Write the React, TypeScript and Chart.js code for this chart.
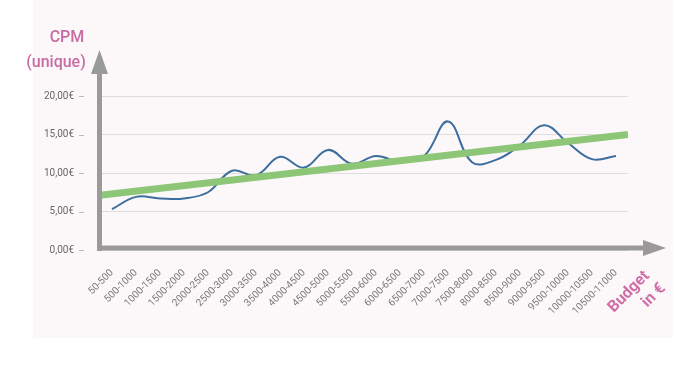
import React, { useEffect, useRef } from "react";
import { Chart, registerables } from "chart.js";

Chart.register(...registerables);

const categories = [
  "50-500", "500-1000", "1000-1500", "1500-2000", "2000-2500", "2500-3000",
  "3000-3500", "3500-4000", "4000-4500", "4500-5000", "5000-5500", "5500-6000",
  "6000-6500", "6500-7000", "7000-7500", "7500-8000", "8000-8500", "8500-9000",
  "9000-9500", "9500-10000", "10000-10500", "10500-11000",
];
const cpmValues = [
  5.3, 6.9, 6.7, 6.7, 7.5, 10.3, 9.7, 12.1, 10.7, 13.0, 11.2, 12.2,
  11.5, 12.2, 16.7, 11.4, 11.7, 13.6, 16.2, 13.9, 11.8, 12.2,
];
const trendStart = 7.1;
const trendEnd = 15.0;
const yTicks = [0, 5, 10, 15, 20];

const fmt = (v: number) => v.toFixed(2).replace(".", ",") + "€";

export default function App() {
  const ref = useRef<HTMLCanvasElement | null>(null);
  useEffect(() => {
    const canvas = ref.current!;
    const decor = {
      id: "decor",
      beforeDraw(chart: any) {
        const ctx = chart.ctx;
        ctx.save();
        ctx.fillStyle = "#ffffff";
        ctx.fillRect(0, 0, chart.width, chart.height);
        ctx.fillStyle = "#fcf8f9";
        ctx.fillRect(33, 0, 640, 338);
        ctx.restore();
      },
      afterDraw(chart: any) {
        const ctx = chart.ctx;
        const area = chart.chartArea;
        const ys = chart.scales.y;
        ctx.save();
        // tick dashes
        ctx.strokeStyle = "#bbbbbb";
        ctx.lineWidth = 1;
        yTicks.forEach((t) => {
          const py = Math.round(ys.getPixelForValue(t)) + 0.5;
          ctx.beginPath();
          ctx.moveTo(79, py);
          ctx.lineTo(84, py);
          ctx.stroke();
        });
        // axes arrows
        const gray = "#9a9a9a";
        ctx.fillStyle = gray;
        const ax = area.left - 1;
        const by = area.bottom - 2;
        ctx.fillRect(ax - 2, 73, 5, by + 3 - 73);
        ctx.beginPath();
        ctx.moveTo(ax - 8, 74);
        ctx.lineTo(ax + 0.5, 50);
        ctx.lineTo(ax + 9, 74);
        ctx.closePath();
        ctx.fill();
        ctx.fillRect(ax - 2, by - 2.5, 645 - ax, 5);
        ctx.beginPath();
        ctx.moveTo(643, by - 8);
        ctx.lineTo(666, by);
        ctx.lineTo(643, by + 8);
        ctx.closePath();
        ctx.fill();
        // titles
        ctx.fillStyle = "#c96ba2";
        ctx.font = "500 16px Roboto";
        ctx.textAlign = "center";
        ctx.textBaseline = "middle";
        ctx.fillText("CPM", 67, 38);
        ctx.fillText("(unique)", 56, 63);
        ctx.fillStyle = "#d06ea8";
        ctx.font = "bold 16px Roboto";
        ctx.translate(629, 292);
        ctx.rotate(-Math.PI / 4);
        ctx.textAlign = "center";
        ctx.fillText("Budget", 0, 0);
        ctx.fillText("in €", 15, 20);
        ctx.restore();
      },
    };
    const chart = new Chart(canvas, {
      type: "line",
      data: {
        datasets: [
          {
            label: "Trend",
            data: [
              { x: -0.5, y: trendStart },
              { x: categories.length - 0.5, y: trendEnd },
            ],
            borderColor: "#8cc676",
            borderWidth: 7,
            pointRadius: 0,
            tension: 0,
            borderCapStyle: "butt",
          },
          {
            label: "CPM",
            data: cpmValues.map((v, i) => ({ x: i, y: v })),
            borderColor: "#3c6e9e",
            borderWidth: 2,
            pointRadius: 0,
            tension: 0.4,
          },
        ],
      },
      options: {
        animation: false,
        responsive: false,
        devicePixelRatio: 1,
        layout: { padding: { left: 0, top: 96, right: 49, bottom: 0 } },
        plugins: { legend: { display: false }, tooltip: { enabled: false } },
        scales: {
          x: {
            type: "linear",
            min: -0.5,
            max: categories.length - 0.5,
            grid: { display: false, drawTicks: false },
            border: { display: false },
            afterBuildTicks: (s: any) => {
              s.ticks = categories.map((_, i) => ({ value: i }));
            },
            afterFit: (s: any) => {
              s.height = 119;
            },
            ticks: {
              autoSkip: false,
              minRotation: 45,
              maxRotation: 45,
              padding: 17,
              color: "#777777",
              font: { family: "Roboto", size: 10 },
              callback: (v: any) => categories[Math.round(Number(v))] ?? "",
            },
          },
          y: {
            min: 0,
            max: 20,
            grid: { color: "#dddddd", drawTicks: false },
            border: { display: false },
            afterBuildTicks: (s: any) => {
              s.ticks = yTicks.map((v) => ({ value: v }));
            },
            afterFit: (s: any) => {
              s.width = 100;
            },
            ticks: {
              padding: 26,
              color: "#666666",
              font: { family: "Roboto", size: 10 },
              callback: (v: any) => fmt(Number(v)),
            },
          },
        },
      },
      plugins: [decor],
    } as any);
    return () => chart.destroy();
  }, []);
  return (
    <div style={{ position: "fixed", left: 0, top: 0, width: 677, height: 369 }}>
      <canvas ref={ref} width={677} height={369} style={{ display: "block" }} />
    </div>
  );
}
